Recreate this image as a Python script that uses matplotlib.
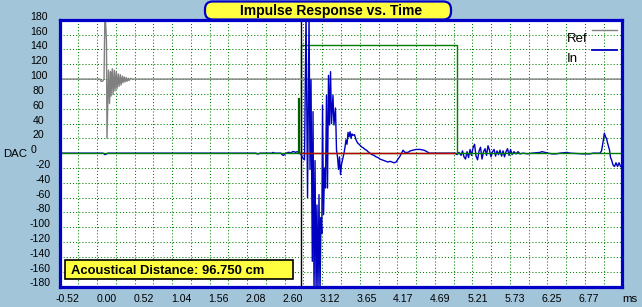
import matplotlib
matplotlib.use("Agg")
import matplotlib.pyplot as plt
from matplotlib.patches import FancyBboxPatch, Rectangle
from matplotlib.lines import Line2D
from matplotlib.ticker import MultipleLocator, NullFormatter

plt.rcParams['font.family'] = ['Liberation Sans', 'DejaVu Sans']

# ---------------- data ----------------
title = "Impulse Response vs. Time"
distance_text = "Acoustical Distance: 96.750 cm"
y_label = "DAC"
x_unit = "ms"
x_min, x_max = -0.5208, 7.2917
y_min, y_max = -180, 180
xtick_vals = [-0.5208, 0.0, 0.5208, 1.0417, 1.5625, 2.0833, 2.6042, 3.125,
              3.6458, 4.1667, 4.6875, 5.2083, 5.7292, 6.25, 6.7708]
xtick_labels = ["-0.52", "0.00", "0.52", "1.04", "1.56", "2.08", "2.60", "3.12",
                "3.65", "4.17", "4.69", "5.21", "5.73", "6.25", "6.77"]
ytick_vals = [180, 160, 140, 120, 100, 80, 60, 40, 20, 0, -20, -40, -60, -80,
              -100, -120, -140, -160, -180]

# Reference trace (drawn with an offset of +100)
ref_offset = 100
ref_t = [-0.521, 0.040, 0.054, 0.075, 0.096, 0.109, 0.130, 0.137, 0.158, 0.172,
         0.186, 0.193, 0.211, 0.221, 0.239, 0.248, 0.266, 0.276, 0.294, 0.304,
         0.322, 0.332, 0.350, 0.359, 0.377, 0.387, 0.405, 0.415, 0.433, 0.443,
         0.463, 0.484, 7.292]
ref_v = [0, 0, -3, -3, 0, 95, 50, -80, 12, -33,
         10, -23, 14, -21, 12, -16, 10, -13, 7, -10,
         6, -8, 4, -5, 3, -4, 2, -3, 1, -2,
         1, 0, 0]

# Input trace
in_t = [-0.521, 0.082, 0.109, 0.130, 0.151, 2.206, 2.220, 2.240, 2.261, 2.428,
        2.442, 2.463, 2.553, 2.567, 2.587, 2.608, 2.629, 2.650, 2.671, 2.691,
        2.712, 2.733, 2.754, 2.775, 2.796, 2.817, 2.837, 2.858, 2.879, 2.900,
        2.921, 2.942, 2.955, 2.969, 2.987, 2.997, 3.011, 3.025, 3.039, 3.052,
        3.066, 3.080, 3.094, 3.108, 3.119, 3.129, 3.143, 3.157, 3.170, 3.184,
        3.198, 3.212, 3.226, 3.240, 3.254, 3.274, 3.288, 3.309, 3.323, 3.337,
        3.351, 3.365, 3.379, 3.393, 3.407, 3.427, 3.441, 3.455, 3.469, 3.483,
        3.497, 3.511, 3.525, 3.538, 3.552, 3.573, 3.594, 3.615, 3.636, 3.656,
        3.677, 3.698, 3.719, 3.740, 3.760, 3.788, 3.816, 3.844, 3.872, 3.899,
        3.927, 3.955, 3.983, 4.011, 4.038, 4.066, 4.094, 4.122, 4.150, 4.177,
        4.205, 4.226, 4.247, 4.274, 4.316, 4.344, 4.385, 4.427, 4.483, 4.538,
        4.580, 4.607, 4.968, 4.996, 5.024, 5.052, 5.072, 5.093, 5.114, 5.135,
        5.156, 5.177, 5.197, 5.218, 5.239, 5.260, 5.281, 5.302, 5.322, 5.343,
        5.364, 5.385, 5.406, 5.426, 5.447, 5.468, 5.489, 5.510, 5.531, 5.551,
        5.572, 5.593, 5.614, 5.635, 5.655, 5.676, 5.697, 5.718, 5.739, 5.760,
        5.787, 5.815, 5.843, 5.871, 5.912, 5.982, 6.037, 6.148, 6.176, 6.217,
        6.259, 6.315, 6.370, 6.426, 6.523, 6.565, 6.745, 6.842, 6.884, 6.981,
        7.002, 7.023, 7.041, 7.058, 7.071, 7.085, 7.099, 7.113, 7.127, 7.141,
        7.162, 7.182, 7.203, 7.224, 7.245, 7.266]
in_v = [0, 0, -2, -1, 0, 0, -1, -1, 0, 0,
        1, 0, 0, -2, -3, -1, 0, 1, 1, 0,
        2, 2, 1, 2, 1, 0, -3, -7, -9, 190,
        -60, 190, -22, 99, -146, 56, -190, -10, -190, -70,
        -190, -56, -190, -87, -108, 65, -83, -20, -47, 78,
        -47, 105, 38, 110, 40, 78, 38, 61, 4, -5,
        -22, -5, -29, -15, -9, 0, 8, 18, 12, 28,
        22, 29, 20, 26, 24, 25, 18, 14, 12, 10,
        8, 7, 5, 4, 2, 0, -2, -3, -5, -6,
        -8, -9, -10, -11, -12, -11, -12, -13, -12, -8,
        -4, 0, 4, 1, 1, 3, 4, 5, 5, 4,
        2, 0, 0, -2, 1, -3, 3, -5, -8, 2,
        -6, 5, -3, 7, 12, -4, -9, 3, 8, -8,
        2, 6, -3, 10, 4, -5, 2, 5, -4, 3,
        -2, 4, -4, 3, -5, 2, 6, -3, 5, -2,
        2, -1, 2, -1, 0, -1, 0, 1, 2, 1,
        0, -1, -1, 0, 1, 0, -1, -1, 0, 0,
        3, 15, 27, 22, 20, 14, 9, 4, -6, -9,
        -16, -18, -13, -18, -13, -18]

# Window / cursor markers
cursor_t = 2.826
window_t = [2.807, 2.826, 4.992, 5.000]
window_level = 146
window_step = 73
red_span = [2.830, 4.968]

# ---------------- style ----------------
BG = "#a2c5da"
GREEN = "#008000"
BLUE = "#0000c0"
BORDER = "#0000c8"
GRAY = "#808080"
RED = "#c00000"
YELLOW = "#ffff40"

W, H = 642, 307
fig = plt.figure(figsize=(W / 100, H / 100), dpi=100)
fig.patch.set_facecolor(BG)

def fx(x):
    return x / W

def fy(y):
    return 1 - y / H

ax_l, ax_r, ax_t, ax_b = 59.6, 622.4, 19.8, 286.5
ax = fig.add_axes([fx(ax_l), fy(ax_b), (ax_r - ax_l) / W, (ax_b - ax_t) / H])
ax.set_facecolor("white")
ax.set_xlim(x_min, x_max)
ax.set_ylim(y_min, y_max)
ax.xaxis.set_major_locator(MultipleLocator(0.2604167))
ax.yaxis.set_major_locator(MultipleLocator(20))
ax.xaxis.set_major_formatter(NullFormatter())
ax.yaxis.set_major_formatter(NullFormatter())
ax.tick_params(length=0)
ax.grid(True, color=GREEN, linestyle=(0, (1, 2)), linewidth=0.75)
ax.set_axisbelow(True)
for s in ax.spines.values():
    s.set_color(BORDER)
    s.set_linewidth(2.3)
    s.set_zorder(10)

# Reference trace (offset)
ax.plot(ref_t, [v + ref_offset for v in ref_v], color=GRAY, lw=1.0, zorder=3)
# Input trace
ax.plot(in_t, in_v, color=BLUE, lw=1.0, zorder=4)

# zero line (green), red section, drawn over the flat parts of the trace
ax.plot([x_min, x_max], [0, 0], color=GREEN, lw=1.0, zorder=4.5)
ax.plot(red_span, [0, 0], color=RED, lw=1.0, zorder=4.6)
# window marker
ax.plot([window_t[0], window_t[0]], [0, window_step], color="#006000", lw=1.6, zorder=4.7)
ax.plot([window_t[1], window_t[1], window_t[2], window_t[2], window_t[3], window_t[3]],
        [0, window_level, window_level, window_step, window_step, 0],
        color=GREEN, lw=1.0, zorder=2)
# cursor
ax.plot([cursor_t, cursor_t], [y_min, y_max], color="black", lw=1.0, zorder=2.6)

# y tick labels
for v in ytick_vals:
    ypx = ax_b - (v - y_min) / (y_max - y_min) * (ax_b - ax_t)
    if v < 0:
        fig.text(fx(50.5), fy(ypx), str(v), ha="right", va="baseline", fontsize=7.6)
    elif v == 0:
        fig.text(fx(33.5), fy(ypx), str(v), ha="center", va="baseline", fontsize=7.6)
    else:
        fig.text(fx(38.8), fy(ypx), str(v), ha="center", va="baseline", fontsize=7.6)
fig.text(fx(3), fy(156.7), y_label, ha="left", va="baseline", fontsize=8.2)

# x tick labels
for v, lab in zip(xtick_vals, xtick_labels):
    left = 97.0 + (v / 0.5208) * 37.02
    if lab.startswith("-"):
        left -= 4.6
    fig.text(fx(left), fy(301.6), lab, ha="left", va="baseline", fontsize=7.6)
fig.text(fx(622.7), fy(302.2), x_unit, ha="left", va="baseline", fontsize=8.2)

# legend
fig.text(fx(567), fy(41.7), "Ref", ha="left", va="baseline", fontsize=9.5)
fig.text(fx(567), fy(61.7), "In", ha="left", va="baseline", fontsize=9.5)
fig.add_artist(Line2D([fx(592), fx(617)], [fy(30.3), fy(30.3)], color=GRAY, lw=1.0, zorder=6))
fig.add_artist(Line2D([fx(592), fx(617)], [fy(50.3), fy(50.3)], color=BLUE, lw=1.3, zorder=6))

# title box
tb = FancyBboxPatch((fx(205), fy(19.5)), fx(455 - 209), (19.5 - 1.5) / H,
                    boxstyle="round,pad=0,rounding_size=0.012",
                    transform=fig.transFigure, facecolor=YELLOW, edgecolor=BORDER,
                    linewidth=1.6, zorder=20, mutation_aspect=W / H)
fig.add_artist(tb)
fig.text(fx(331.5), fy(15.5), title, ha="center", va="baseline", fontsize=10,
         fontweight="bold", zorder=21)

# distance box
db = Rectangle((fx(65), fy(279.3)), fx(293 - 65), (279.3 - 260) / H,
               transform=fig.transFigure, facecolor=YELLOW, edgecolor="black",
               linewidth=1.2, zorder=20)
fig.add_artist(db)
fig.text(fx(71), fy(274.3), distance_text, ha="left", va="baseline", fontsize=9.4,
         fontweight="bold", zorder=21)

fig.savefig("out.png", dpi=100, facecolor=BG)
